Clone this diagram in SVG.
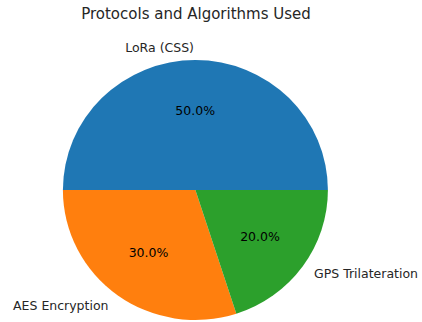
<svg xmlns="http://www.w3.org/2000/svg" width="422" height="322" viewBox="0 0 422 322">
  <style>
    text { font-family: "DejaVu Sans", sans-serif; fill: #262626; }
    .title { font-size: 15px; text-anchor: middle; }
    .label { font-size: 12.5px; }
    .pct { font-size: 12.5px; text-anchor: middle; fill: #000; }
  </style>
  <rect width="422" height="322" fill="#ffffff"/>
  <text class="title" x="196" y="19">Protocols and Algorithms Used</text>
  <!-- wedges: centre (195.4,190), radii 132.5 x 130, counter-clockwise from 0° -->
  <g id="wedges">
    <g id="lora">
      <path d="M195.4,190 L327.9,190 A132.5,130 0 0 0 62.9,190 Z" fill="#1f77b4"/>
    </g>
    <g id="aes">
      <path d="M195.4,190 L62.9,190 A132.5,130 0 0 0 236.34,313.64 Z" fill="#ff7f0e"/>
    </g>
    <g id="gps">
      <path d="M195.4,190 L236.34,313.64 A132.5,130 0 0 0 327.9,190 Z" fill="#2ca02c"/>
    </g>
  </g>
  <g id="labels">
    <text class="label" x="194" y="51.5" text-anchor="end">LoRa (CSS)</text>
    <text class="label" x="108.5" y="310" text-anchor="end">AES Encryption</text>
    <text class="label" x="314" y="278.3">GPS Trilateration</text>
    <text class="pct" x="195.2" y="115.3">50.0%</text>
    <text class="pct" x="148.5" y="257.3">30.0%</text>
    <text class="pct" x="260" y="241">20.0%</text>
  </g>
</svg>
